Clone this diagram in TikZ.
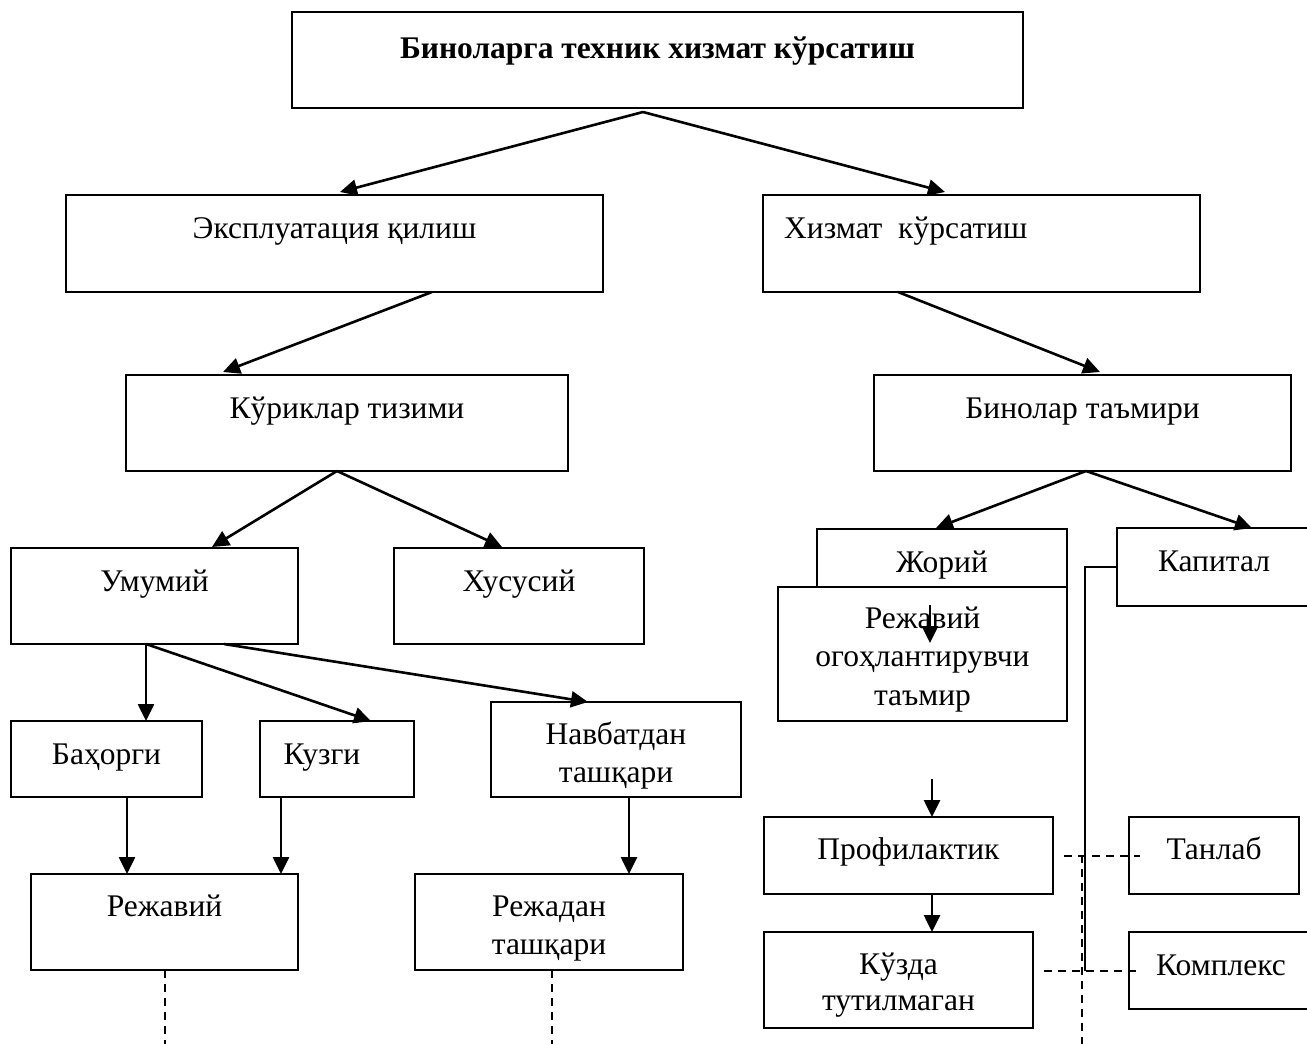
\documentclass[tikz,border=0pt]{standalone}
\usepackage{fontspec}
\setmainfont{Liberation Serif}
\usetikzlibrary{arrows.meta}
\begin{document}
\begin{tikzpicture}[x=1pt,y=-1pt,
  box/.style={draw, line width=1.9pt, inner sep=0pt, outer sep=0pt, fill=white},
  txt/.style={inner sep=0pt, anchor=base, align=center, font=\fontsize{31.5}{37.5}\selectfont},
  txtb/.style={inner sep=0pt, anchor=base, align=center, font=\bfseries\fontsize{31.5}{37.5}\selectfont},
  arr/.style={line width=2.6pt, -{Triangle[length=17pt,width=16pt]}},
  dsh/.style={line width=1.6pt, dash pattern=on 8pt off 6pt},
  sol/.style={line width=1.6pt},
]
\path[use as bounding box] (0,0) rectangle (1307,1044);
\clip (0,0) rectangle (1307,1044);

% boxes
\node[box, minimum width=731pt, minimum height=96pt] (top) at (657.5,60) {};
\node[box, minimum width=537pt, minimum height=97pt] (expl) at (334.5,243.5) {};
\node[box, minimum width=437pt, minimum height=97pt] (xiz) at (981.5,243.5) {};
\node[box, minimum width=442pt, minimum height=96pt] (kur) at (347,423) {};
\node[box, minimum width=417pt, minimum height=96pt] (bin) at (1082.5,423) {};
\node[box, minimum width=287pt, minimum height=96pt] (umu) at (154.5,596) {};
\node[box, minimum width=250pt, minimum height=96pt] (xus) at (519,596) {};
\node[box, minimum width=250pt, minimum height=58pt] (jor) at (942,558) {};
\node[box, minimum width=289pt, minimum height=134pt] (ogo) at (922.5,654) {};
\node[box, minimum width=194pt, minimum height=78pt] (kap) at (1214,567) {};
\node[box, minimum width=191pt, minimum height=76pt] (bah) at (106.5,759) {};
\node[box, minimum width=154pt, minimum height=76pt] (kuz) at (337,759) {};
\node[box, minimum width=250pt, minimum height=95pt] (nav) at (616,749.5) {};
\node[box, minimum width=267pt, minimum height=96pt] (rej) at (164.5,922) {};
\node[box, minimum width=268pt, minimum height=96pt] (rjd) at (549,922) {};
\node[box, minimum width=289pt, minimum height=77pt] (pro) at (908.5,855.5) {};
\node[box, minimum width=170pt, minimum height=77pt] (tan) at (1214,855.5) {};
\node[box, minimum width=269pt, minimum height=96pt] (kzd) at (898.5,980) {};
\node[box, minimum width=184pt, minimum height=77pt] (kom) at (1221,970.5) {};

% texts (anchor base = last line of a multi-line text)
\node[txtb] (topT) at ([yshift=-46pt]top.north) {Биноларга техник хизмат кўрсатиш};
\node[txt] (explT) at ([yshift=-43pt]expl.north) {Эксплуатация қилиш};
\node[txt, anchor=base west] (xizT) at ([xshift=21pt,yshift=-43pt]xiz.north west) {Хизмат~ кўрсатиш};
\node[txt] (kurT) at ([yshift=-43pt]kur.north) {Кўриклар тизими};
\node[txt] (binT) at ([yshift=-43pt]bin.north) {Бинолар таъмири};
\node[txt] (umuT) at ([yshift=-43pt]umu.north) {Умумий};
\node[txt] (xusT) at ([yshift=-43pt]xus.north) {Хусусий};
\node[txt] (jorT) at ([yshift=-43pt]jor.north) {Жорий};
\node[txt] (kapT) at ([yshift=-43pt]kap.north) {Капитал};
\node[txt, font=\fontsize{31.5}{38.5}\selectfont] (ogoT) at ([yshift=-118pt]ogo.north) {Режавий\\огоҳлантирувчи\\таъмир};
\node[txt] (bahT) at ([yshift=-43pt]bah.north) {Баҳорги};
\node[txt] (kuzT) at ([xshift=-15pt,yshift=-43pt]kuz.north) {Кузги};
\node[txt] (navT) at ([yshift=-80pt]nav.north) {Навбатдан\\ташқари};
\node[txt] (rejT) at ([yshift=-42pt]rej.north) {Режавий};
\node[txt] (rjdT) at ([yshift=-80pt]rjd.north) {Режадан\\ташқари};
\node[txt] (proT) at ([yshift=-42pt]pro.north) {Профилактик};
\node[txt] (tanT) at ([yshift=-42pt]tan.north) {Танлаб};
\node[txt, font=\fontsize{31.5}{36}\selectfont] (kzdT) at ([yshift=-78pt]kzd.north) {Кўзда\\тутилмаган};
\node[txt] (komT) at ([yshift=-43pt]kom.north) {Комплекс};

% arrows
\draw[arr] ([xshift=-14.5pt,yshift=-4pt]top.south) -- ([xshift=5.5pt,yshift=3pt]expl.north);
\draw[arr] ([xshift=-14.5pt,yshift=-4pt]top.south) -- ([xshift=-36.5pt,yshift=3pt]xiz.north);
\draw[arr] ([xshift=97.5pt]expl.south) -- ([xshift=-124pt,yshift=3pt]kur.north);
\draw[arr] ([xshift=-83.5pt]xiz.south) -- ([xshift=17.5pt,yshift=3pt]bin.north);
\draw[arr] ([xshift=-10pt]kur.south) -- ([xshift=57.5pt,yshift=1pt]umu.north);
\draw[arr] ([xshift=-10pt]kur.south) -- ([xshift=-17pt,yshift=1pt]xus.north);
\draw[arr] ([xshift=3.5pt]bin.south) -- ([xshift=-6pt,yshift=1pt]jor.north);
\draw[arr] ([xshift=3.5pt]bin.south) -- ([xshift=38pt,yshift=0pt]kap.north);
\draw[arr] ([xshift=-8.5pt]umu.south) -- ([xshift=39.5pt]bah.north);
\draw[arr] ([xshift=-8.5pt]umu.south) -- ([xshift=34pt]kuz.north);
\draw[arr] ([xshift=69.5pt]umu.south) -- ([xshift=-28pt]nav.north);
\draw[arr] ([xshift=20.5pt]bah.south) -- ([xshift=-37.5pt]rej.north);
\draw[arr] ([xshift=-56pt]kuz.south) -- ([xshift=116.5pt]rej.north);
\draw[arr] ([xshift=13pt]nav.south) -- ([xshift=80pt]rjd.north);
\coordinate (ogoA) at ([xshift=7.5pt,yshift=-18pt]ogo.north);
\coordinate (ogoB) at ([xshift=7.5pt,yshift=-56pt]ogo.north);
\draw[arr] (ogoA) -- (ogoB);
\coordinate (proA) at ([xshift=23.5pt,yshift=38pt]pro.north);
\draw[arr] (proA) -- ([xshift=23.5pt]pro.north);
\draw[arr] ([xshift=23.5pt]pro.south) -- ([xshift=33.5pt]kzd.north);

% dashed and solid links
\coordinate (rejE) at ([xshift=0.5pt,yshift=-80pt]rej.south);
\draw[dsh] ([xshift=0.5pt]rej.south) -- (rejE);
\coordinate (rjdE) at ([xshift=3pt,yshift=-80pt]rjd.south);
\draw[dsh] ([xshift=3pt]rjd.south) -- (rjdE);
\coordinate (proD) at ([xshift=11pt,yshift=-0.5pt]pro.east);
\coordinate (tanD) at ([xshift=11pt,yshift=-0.5pt]tan.west);
\draw[dsh] (proD) -- (tanD);
\coordinate (vD) at (1082,855);
\coordinate (vE) at (1082,1050);
\draw[dsh] (vD) -- (vE);
\coordinate (kzdD) at ([xshift=11pt,yshift=9pt]kzd.east);
\coordinate (komD) at ([xshift=8pt,yshift=-0.5pt]kom.west);
\draw[dsh] (kzdD) -- (komD);
\coordinate (kapC) at (1085,567);
\coordinate (kapE) at (1085,971);
\draw[sol] (kap.west) -- (kapC) -- (kapE);
\end{tikzpicture}
\end{document}
